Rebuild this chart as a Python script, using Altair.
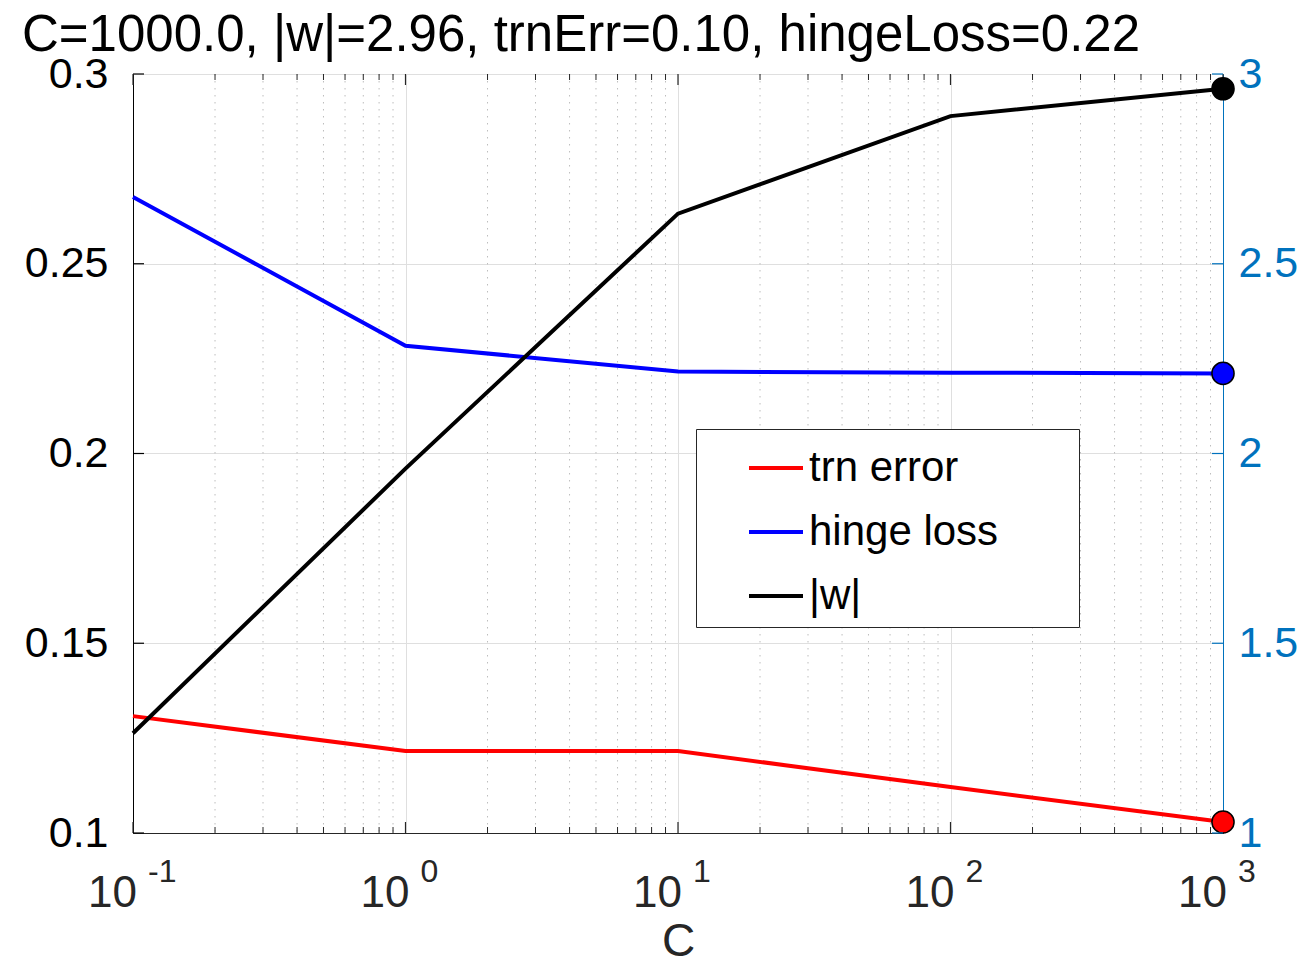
import altair as alt
import pandas as pd

# ---- data ----
C_values = [0.1, 1, 10, 100, 1000]
trn_error = [0.1308, 0.1216, 0.1216, 0.1121, 0.1029]
hinge_loss = [0.2676, 0.2284, 0.2216, 0.2213, 0.2211]
w_norm = [1.263, 1.96, 2.632, 2.889, 2.961]

series_names = ["trn error", "hinge loss", "|w|"]
series_colors = ["#ff0000", "#0000ff", "#000000"]

x_tick_values = [0.1, 1, 10, 100, 1000]
x_tick_bases = ["10", "10", "10", "10", "10"]
x_tick_exponents = ["-1", "0", "1", "2", "3"]
x_minor_values = [m * 10.0 ** e for e in range(-1, 3) for m in range(2, 10)]
left_tick_values = [0.1, 0.15, 0.2, 0.25, 0.3]
right_tick_values = [1, 1.5, 2, 2.5, 3]

title_text = "C=1000.0, |w|=2.96, trnErr=0.10, hingeLoss=0.22"

W, H = 1090, 759
FONT = "Liberation Sans"
AXIS_GRAY = "#262626"
RIGHT_BLUE = "#0072BD"

left_df = pd.DataFrame({
    "C": C_values * 2,
    "value": trn_error + hinge_loss,
    "series": [series_names[0]] * len(C_values) + [series_names[1]] * len(C_values),
})
right_df = pd.DataFrame({"C": C_values, "value": w_norm, "series": [series_names[2]] * len(C_values)})
major_df = pd.DataFrame({"v": x_tick_values, "base": x_tick_bases, "exp": x_tick_exponents})
minor_df = pd.DataFrame({"v": x_minor_values})
left_ticks_df = pd.DataFrame({"v": left_tick_values})
right_ticks_df = pd.DataFrame({"v": right_tick_values})
title_df = pd.DataFrame({"t": [title_text]})

xscale = alt.Scale(type="log", domain=[0.1, 1000], nice=False)
yl_scale = alt.Scale(domain=[0.1, 0.3], nice=False, zero=False)
yr_scale = alt.Scale(domain=[1, 3], nice=False, zero=False)
color_scale = alt.Scale(domain=series_names, range=series_colors)

# trailing spaces (kept by a zero-width char) widen the legend box like the reference
PAD = " " * 6 + "\u200b"
legend = alt.Legend(
    title=None, orient="none", legendX=563, legendY=355,
    symbolType="stroke", symbolSize=2916, symbolStrokeWidth=4,
    labelFont=FONT, labelFontSize=42, labelColor="black", labelLimit=500,
    labelOffset=4, symbolOffset=41, padding=10, rowPadding=14,
    strokeColor=AXIS_GRAY, fillColor="white",
    labelExpr="datum.label == 'hinge loss' ? 'hinge loss" + PAD + "' : datum.label",
)

x_axis = alt.Axis(
    values=x_tick_values, labels=False, grid=True, gridColor="#dfdfdf", gridWidth=1,
    ticks=False, tickSize=0, domainColor=AXIS_GRAY, domainWidth=1,
    title="C", titleFont=FONT, titleFontSize=46, titleFontWeight="normal", titleColor=AXIS_GRAY,
    titleY=122, titleBaseline="alphabetic",
)

yl_axis = alt.Axis(
    values=left_tick_values, format="~g", grid=True, gridColor="#dfdfdf", gridWidth=1,
    ticks=False, tickSize=0, domainColor="black", domainWidth=1,
    labelFont=FONT, labelFontSize=43, labelColor="black", labelPadding=25,
    labelBaseline="middle", labelFlush=False, title=None,
)
yr_axis = alt.Axis(
    orient="right", values=right_tick_values, format="~g", grid=False,
    ticks=False, tickSize=0, domainColor=RIGHT_BLUE, domainWidth=1,
    labelFont=FONT, labelFontSize=43, labelColor=RIGHT_BLUE, labelPadding=15,
    labelBaseline="middle", labelFlush=False, title=None,
)

X = lambda f: alt.X(f, scale=xscale, axis=x_axis)
YL = lambda f: alt.Y(f, scale=yl_scale, axis=yl_axis)
YR = lambda f: alt.Y(f, scale=yr_scale, axis=yr_axis)

tick_color = AXIS_GRAY
minor_grid = alt.Chart(minor_df).mark_rule(color="#bdbdbd", strokeWidth=1, strokeDash=[1.5, 5.5]).encode(
    x=X("v:Q"))
major_bot = alt.Chart(major_df).mark_rule(color=tick_color, strokeWidth=1.2).encode(
    x=X("v:Q"), y=alt.value(H), y2=alt.value(H - 11))
major_top = alt.Chart(major_df).mark_rule(color=tick_color, strokeWidth=1.2).encode(
    x=X("v:Q"), y=alt.value(0), y2=alt.value(11))
minor_bot = alt.Chart(minor_df).mark_rule(color=tick_color, strokeWidth=1).encode(
    x=X("v:Q"), y=alt.value(H), y2=alt.value(H - 6))
minor_top = alt.Chart(minor_df).mark_rule(color=tick_color, strokeWidth=1).encode(
    x=X("v:Q"), y=alt.value(0), y2=alt.value(6))
bases = alt.Chart(major_df).mark_text(
    font=FONT, fontSize=44, color=AXIS_GRAY, align="right", baseline="alphabetic", dx=4
).encode(x=X("v:Q"), y=alt.value(H + 74), text="base:N")
exponents = alt.Chart(major_df).mark_text(
    font=FONT, fontSize=32, color=AXIS_GRAY, align="left", baseline="alphabetic", dx=15
).encode(x=X("v:Q"), y=alt.value(H + 49), text="exp:N")

left_ticks = alt.Chart(left_ticks_df).mark_rule(color="black", strokeWidth=1.2).encode(
    y=YL("v:Q"), x=alt.value(0), x2=alt.value(11))
right_ticks = alt.Chart(right_ticks_df).mark_rule(color=RIGHT_BLUE, strokeWidth=1.2).encode(
    y=YR("v:Q"), x=alt.value(W - 11), x2=alt.value(W))

title_mark = alt.Chart(title_df).mark_text(
    font=FONT, fontSize=51, color="black", align="left", baseline="alphabetic"
).encode(x=alt.value(-111), y=alt.value(-23), text="t:N")

color_enc = alt.Color("series:N", scale=color_scale, legend=legend)

left_lines = alt.Chart(left_df).mark_line(strokeWidth=4).encode(
    x=X("C:Q"), y=YL("value:Q"), color=color_enc, detail="series:N")
left_pts = alt.Chart(left_df).transform_filter("datum.C == 1000").mark_point(
    filled=True, size=490, stroke="black", strokeWidth=1.5, opacity=1, shape="circle"
).encode(x=X("C:Q"), y=YL("value:Q"), color=color_enc)

right_line = alt.Chart(right_df).mark_line(strokeWidth=4).encode(
    x=X("C:Q"), y=YR("value:Q"), color=color_enc)
right_pt = alt.Chart(right_df).transform_filter("datum.C == 1000").mark_point(
    filled=True, size=490, stroke="black", strokeWidth=1.5, opacity=1, shape="circle"
).encode(x=X("C:Q"), y=YR("value:Q"), color=color_enc)

left_group = alt.layer(minor_grid, major_bot, major_top, minor_bot, minor_top, bases, exponents,
                       title_mark, left_ticks, left_lines, left_pts)
right_group = alt.layer(right_ticks, right_line, right_pt)

chart = alt.layer(left_group, right_group).resolve_scale(y="independent").properties(
    width=W, height=H,
    padding={"left": 125, "top": 66, "right": 77, "bottom": 126},
    autosize=alt.AutoSizeParams(type="none"),
).configure_view(stroke=AXIS_GRAY, strokeWidth=1).configure(background="white", font=FONT)

chart.save("out.html", embed_options={"renderer": "svg", "actions": False})
